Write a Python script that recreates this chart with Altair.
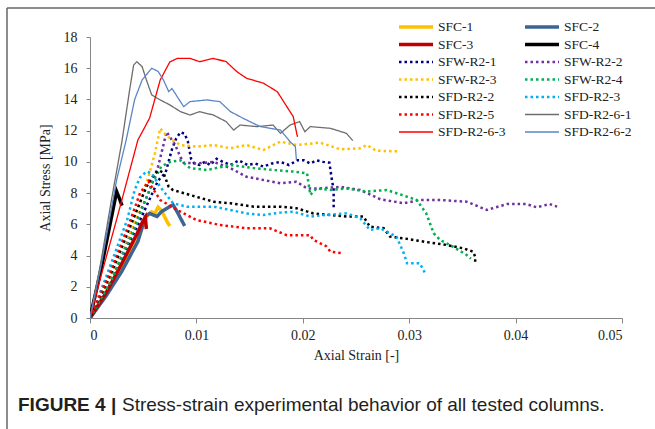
import altair as alt
import pandas as pd

series_names = ["SFC-1", "SFC-2", "SFC-3", "SFC-4", "SFW-R2-1", "SFW-R2-2", "SFW-R2-3",
                "SFW-R2-4", "SFD-R2-2", "SFD-R2-3", "SFD-R2-5", "SFD-R2-6-1", "SFD-R2-6-3", "SFD-R2-6-2"]
series_colors = ["#FFC000", "#3D6594", "#C00000", "#000000", "#000080", "#7030A0", "#FFC000",
                 "#00B050", "#000000", "#00B0F0", "#FF0000", "#6D6D6D", "#FF0000", "#5B86C5"]
series_style = ["thick", "thick", "thick", "thick", "dot", "dot", "dot",
                "dot", "dot", "dot", "dot", "thin", "thin", "thin"]

strain_sfc1 = [0, 0.0015, 0.003, 0.0045, 0.0053, 0.0058, 0.0061, 0.0064, 0.0067, 0.0070, 0.0073, 0.0075]
stress_sfc1 = [0, 1.5, 3.2, 5.0, 6.5, 6.8, 6.7, 7.1, 6.9, 6.5, 6.1, 5.9]

strain_sfc2 = [0, 0.0015, 0.003, 0.0045, 0.0052, 0.0056, 0.0063, 0.0067, 0.0074, 0.0078, 0.0082, 0.0085, 0.0089]
stress_sfc2 = [0, 1.4, 3.0, 4.9, 6.5, 6.7, 6.5, 6.8, 7.1, 7.25, 6.8, 6.4, 5.9]

strain_sfc3 = [0, 0.0015, 0.003, 0.0045, 0.0049, 0.0052, 0.0053]
stress_sfc3 = [0, 1.6, 3.5, 5.5, 6.1, 6.45, 5.7]

strain_sfc4 = [0, 0.001, 0.002, 0.0025, 0.0028, 0.0030]
stress_sfc4 = [0, 3.0, 6.4, 8.1, 7.6, 7.2]

strain_sfw1 = [0, 0.002, 0.0046, 0.0064, 0.0071, 0.0077, 0.0081, 0.0085, 0.0089, 0.0092, 0.0095, 0.0098,
               0.0103, 0.0108, 0.0113, 0.0119, 0.0125, 0.0132, 0.0140, 0.0148, 0.0155, 0.0163, 0.0171,
               0.0179, 0.0187, 0.0195, 0.0201, 0.0207, 0.0213, 0.0219, 0.0225, 0.0227, 0.0229, 0.0229]
stress_sfw1 = [0, 2.5, 6.1, 8.8, 9.3, 10.8, 11.5, 11.9, 11.8, 11.3, 10.2, 9.9,
               9.8, 10.0, 9.8, 10.2, 10.0, 9.8, 10.1, 9.8, 9.9, 9.7, 9.9,
               10.0, 9.8, 10.1, 10.1, 9.9, 10.1, 10.0, 9.95, 9.0, 8.2, 7.0]

strain_sfw2 = [0, 0.002, 0.0042, 0.0055, 0.0064, 0.0068, 0.0072, 0.0075, 0.0080, 0.0085, 0.0088, 0.0100,
               0.0116, 0.0132, 0.0147, 0.0163, 0.0179, 0.0194, 0.0204, 0.0216, 0.0235, 0.0254, 0.0273,
               0.0295, 0.0310, 0.0329, 0.0354, 0.0373, 0.0392, 0.0410, 0.0420, 0.0432, 0.0439]
stress_sfw2 = [0, 2.6, 6.07, 8.0, 9.7, 10.8, 11.93, 11.6, 11.1, 10.3, 9.95, 9.9,
               10.0, 9.6, 9.05, 8.84, 8.63, 8.73, 8.3, 8.3, 8.4, 8.2, 7.6,
               7.35, 7.56, 7.56, 7.45, 6.92, 7.3, 7.3, 7.09, 7.3, 7.13]

strain_sfw3 = [0, 0.002, 0.0041, 0.0056, 0.0061, 0.0066, 0.0070, 0.0077, 0.0085, 0.0100, 0.0116, 0.0132,
               0.0147, 0.0163, 0.0179, 0.0194, 0.0210, 0.0216, 0.0235, 0.0254, 0.0260, 0.0269, 0.0291]
stress_sfw3 = [0, 2.8, 6.07, 9.3, 10.55, 12.15, 11.83, 11.4, 11.08, 10.98, 11.08, 10.87,
               11.08, 10.76, 11.3, 11.08, 11.19, 11.24, 10.81, 10.87, 11.08, 10.72, 10.67]

strain_sfw4 = [0, 0.002, 0.0044, 0.0058, 0.0067, 0.0075, 0.0085, 0.0094, 0.0110, 0.0132, 0.0154, 0.0172,
               0.0191, 0.0204, 0.0207, 0.0213, 0.0226, 0.0241, 0.0260, 0.0279, 0.0298, 0.0307, 0.0316,
               0.0323, 0.0329, 0.0341, 0.0354, 0.0358]
stress_sfw4 = [0, 2.4, 6.07, 8.6, 9.7, 10.0, 10.1, 9.6, 9.48, 9.8, 9.6, 9.48,
               9.38, 9.27, 7.88, 8.3, 8.2, 8.3, 8.1, 8.2, 7.77, 7.56, 6.7,
               5.43, 5.0, 4.57, 4.04, 3.8]

strain_sfd2 = [0, 0.002, 0.0039, 0.0053, 0.0061, 0.0065, 0.0069, 0.0074, 0.0078, 0.0094, 0.0116, 0.0132,
               0.0154, 0.0179, 0.0194, 0.0210, 0.0226, 0.0241, 0.0257, 0.0263, 0.0276, 0.0282, 0.0295,
               0.0313, 0.0335, 0.0351, 0.0360, 0.0362, 0.0362]
stress_sfd2 = [0, 2.9, 6.07, 8.4, 9.27, 9.45, 9.3, 8.4, 8.2, 7.88, 7.45, 7.35,
               7.13, 7.13, 7.03, 6.7, 6.6, 6.5, 6.5, 5.85, 5.75, 5.21, 5.1,
               4.9, 4.68, 4.46, 4.25, 3.93, 3.5]

strain_sfd3 = [0, 0.0015, 0.0035, 0.0042, 0.0047, 0.0053, 0.0058, 0.0066, 0.0078, 0.0091, 0.0116, 0.0132,
               0.0147, 0.0163, 0.0179, 0.0191, 0.0207, 0.0222, 0.0241, 0.0254, 0.0263, 0.0273, 0.0288,
               0.0295, 0.0298, 0.0310, 0.0315]
stress_sfd3 = [0, 2.6, 6.3, 8.2, 9.0, 9.38, 9.27, 8.4, 7.35, 7.13, 7.13, 6.92,
               6.7, 6.6, 6.75, 6.81, 6.5, 6.6, 6.7, 6.39, 5.64, 5.75, 5.21,
               4.14, 3.5, 3.5, 2.86]

strain_sfd5 = [0, 0.002, 0.0037, 0.0047, 0.0055, 0.0058, 0.0066, 0.0082, 0.0100, 0.0122, 0.0147, 0.0169,
               0.0185, 0.0207, 0.0210, 0.0222, 0.0226, 0.0237]
stress_sfd5 = [0, 3.1, 6.07, 8.0, 8.75, 8.4, 7.56, 6.92, 6.28, 5.96, 5.75, 5.75,
               5.3, 5.3, 5.0, 4.6, 4.25, 4.15]

strain_sfd61 = [0, 0.001, 0.002, 0.003, 0.0037, 0.0041, 0.0044, 0.0049, 0.0053, 0.0058, 0.0066, 0.0075,
                0.0085, 0.0094, 0.0103, 0.0116, 0.0128, 0.0135, 0.0141, 0.0157, 0.0172, 0.0179, 0.0188,
                0.0197, 0.0202, 0.0207, 0.0226, 0.0241, 0.0247]
stress_sfd61 = [0, 3.5, 7.5, 11.3, 14.5, 16.2, 16.42, 16.1, 15.25, 14.29, 13.97, 13.65,
                13.22, 13.0, 13.22, 13.0, 12.58, 12.04, 12.36, 12.26, 12.36, 11.83, 12.36,
                12.58, 11.93, 12.26, 12.15, 11.83, 11.36]

strain_sfd62 = [0, 0.001, 0.0025, 0.0034, 0.0042, 0.0049, 0.0058, 0.0064, 0.0069, 0.0074, 0.0077, 0.0082,
                0.0088, 0.0094, 0.0110, 0.0122, 0.0132, 0.0144, 0.0160, 0.0179, 0.0188, 0.0193, 0.0194]
stress_sfd62 = [0, 3.2, 8.84, 11.4, 14.0, 15.25, 16.0, 15.8, 15.25, 14.5, 14.7, 14.18,
                13.54, 13.86, 13.97, 13.86, 13.22, 12.79, 12.26, 12.04, 11.3, 10.98, 10.12]

strain_sfd63 = [0, 0.001, 0.0025, 0.0045, 0.0056, 0.0066, 0.0075, 0.0082, 0.0094, 0.0103, 0.0116, 0.0128,
                0.0138, 0.0147, 0.0163, 0.0176, 0.0185, 0.0191, 0.0195]
stress_sfd63 = [0, 2.6, 6.3, 11.4, 12.8, 15.25, 16.4, 16.63, 16.63, 16.42, 16.63, 16.42,
                15.78, 15.36, 15.04, 14.5, 13.54, 12.9, 11.6]

x_ticks = [0, 0.01, 0.02, 0.03, 0.04, 0.05]
y_ticks = [0, 2, 4, 6, 8, 10, 12, 14, 16, 18]

caption_bold = "FIGURE 4 |"
caption_text = "Stress-strain experimental behavior of all tested columns."

curves = {
    "SFC-1": (strain_sfc1, stress_sfc1), "SFC-2": (strain_sfc2, stress_sfc2),
    "SFC-3": (strain_sfc3, stress_sfc3), "SFC-4": (strain_sfc4, stress_sfc4),
    "SFW-R2-1": (strain_sfw1, stress_sfw1), "SFW-R2-2": (strain_sfw2, stress_sfw2),
    "SFW-R2-3": (strain_sfw3, stress_sfw3), "SFW-R2-4": (strain_sfw4, stress_sfw4),
    "SFD-R2-2": (strain_sfd2, stress_sfd2), "SFD-R2-3": (strain_sfd3, stress_sfd3),
    "SFD-R2-5": (strain_sfd5, stress_sfd5), "SFD-R2-6-1": (strain_sfd61, stress_sfd61),
    "SFD-R2-6-3": (strain_sfd63, stress_sfd63), "SFD-R2-6-2": (strain_sfd62, stress_sfd62),
}

rows = []
for name in series_names:
    xs, ys = curves[name]
    for i, (x, y) in enumerate(zip(xs, ys)):
        rows.append({"series": name, "i": i, "strain": x, "stress": y})
df = pd.DataFrame(rows)

# Vega fills legend columns top-to-bottom; reorder so rows read left-to-right like the reference
legend_order = series_names[0::2] + series_names[1::2]
idx = [series_names.index(n) for n in legend_order]

dash_map = {"thick": [1, 0], "thin": [1, 0], "dot": [2.5, 3]}
width_map = {"thick": 3.5, "thin": 1.3, "dot": 2.5}
color_range = [series_colors[k] for k in idx]
dash_range = [dash_map[series_style[k]] for k in idx]
width_range = [width_map[series_style[k]] for k in idx]

SERIF = "Liberation Serif"
SANS = "Liberation Sans"

legend = alt.Legend(
    title=None, orient="none", legendX=307, legendY=-17, columns=2,
    symbolType="stroke", symbolSize=1156, clipHeight=14,
    labelFont=SERIF, labelFontSize=13.5, labelColor="#222222", labelOffset=3,
    columnPadding=17, rowPadding=3.5, padding=0,
)

lines = alt.Chart(df).mark_line(clip=True).encode(
    x=alt.X("strain:Q", scale=alt.Scale(domain=[0, 0.05], nice=False),
            axis=alt.Axis(values=x_ticks, title="Axial Strain [-]",
                          labelExpr="datum.value == 0 ? '0' : format(datum.value, '.2f')",
                          grid=False, tickSize=5, labelPadding=5,
                          titleY=37, titleBaseline="middle")),
    y=alt.Y("stress:Q", scale=alt.Scale(domain=[0, 18], nice=False),
            axis=alt.Axis(values=y_ticks, title="Axial Stress [MPa]", grid=False,
                          tickSize=4, labelPadding=9, titleX=-45, titleBaseline="middle")),
    color=alt.Color("series:N", scale=alt.Scale(domain=legend_order, range=color_range), legend=legend),
    strokeDash=alt.StrokeDash("series:N", scale=alt.Scale(domain=legend_order, range=dash_range), legend=legend),
    strokeWidth=alt.StrokeWidth("series:N", scale=alt.Scale(type="ordinal", domain=legend_order, range=width_range),
                                legend=legend),
    order=alt.Order("i:Q"),
)

one = pd.DataFrame({"k": [0]})
frame_top = alt.Chart(one).mark_rule(color="#666666", strokeWidth=1.5).encode(
    x=alt.value(-83), x2=alt.value(570), y=alt.value(-29))
frame_left = alt.Chart(one).mark_rule(color="#666666", strokeWidth=1.5).encode(
    x=alt.value(-83), y=alt.value(-29), y2=alt.value(400))

cap1 = alt.Chart(pd.DataFrame({"t": [caption_bold]})).mark_text(
    align="left", baseline="alphabetic", font=SANS, fontSize=19, fontWeight="bold", color="#231F20"
).encode(text="t:N", x=alt.value(-72), y=alt.value(374))
cap2 = alt.Chart(pd.DataFrame({"t": [caption_text]})).mark_text(
    align="left", baseline="alphabetic", font=SANS, fontSize=19, color="#231F20"
).encode(text="t:N", x=alt.value(32), y=alt.value(374))

chart = alt.layer(lines, frame_top, frame_left, cap1, cap2).properties(
    width=532, height=281,
    autosize=alt.AutoSizeParams(type="none"),
    padding={"left": 90, "top": 37, "right": 33, "bottom": 111},
    background="white",
).configure_view(stroke="transparent").configure_axis(
    labelFont=SERIF, labelFontSize=14, labelColor="#222222",
    titleFont=SERIF, titleFontSize=14, titleFontWeight="normal", titleColor="#222222",
    domainColor="#868686", tickColor="#868686", domainWidth=1, tickWidth=1,
)

chart.save("out.html", embed_options={"renderer": "svg", "actions": False})
